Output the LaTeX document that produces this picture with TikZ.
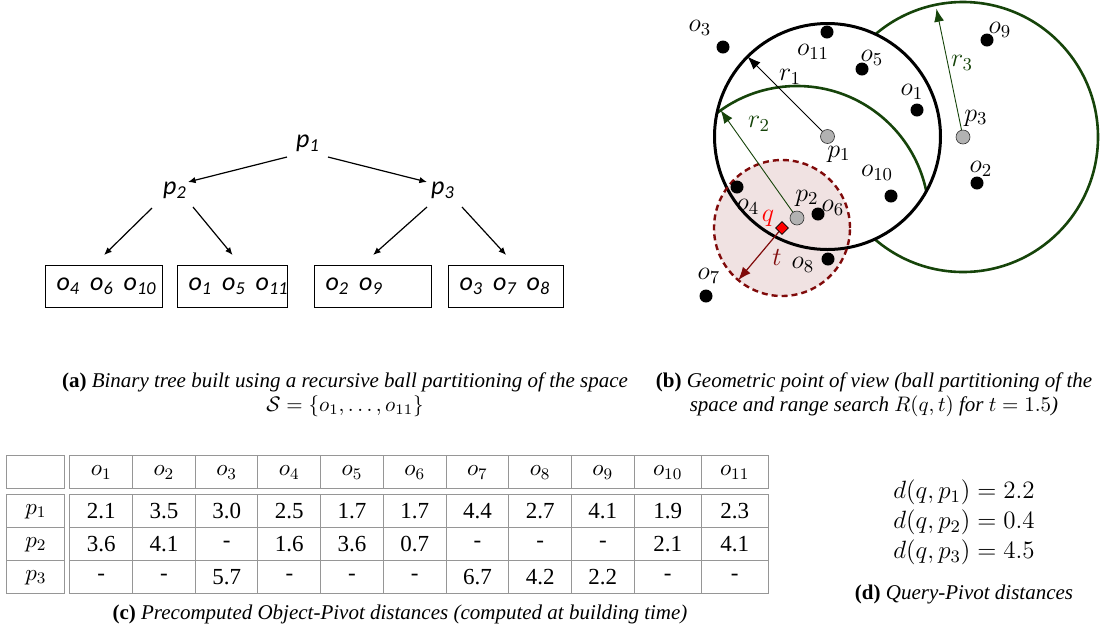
\documentclass[tikz,border=0pt]{standalone}
\usepackage{fix-cm}
\usepackage{amsmath,amssymb}
\usepackage[no-math]{fontspec}
\setmainfont{Liberation Serif}
\newfontfamily\treefont{Carlito}
\usepackage{xcolor}
\usepackage{tikz}
\usetikzlibrary{arrows.meta,positioning,calc,matrix,shapes.geometric}

\definecolor{ballgreen}{RGB}{22,68,10}
\definecolor{rangered}{RGB}{128,10,10}
\definecolor{rangefill}{RGB}{240,226,226}
\definecolor{rulegray}{RGB}{150,150,150}

\newcommand{\leafobj}[1]{o\textsubscript{#1}}
\newcommand{\leafsep}{\kern5pt}

\tikzset{
  treelabel/.style={font=\treefont\itshape\fontsize{13}{15}\selectfont, inner sep=0pt},
  leaf/.style={draw, line width=0.6pt, minimum height=21pt, inner xsep=5.5pt,
    align=left, anchor=north west, font=\treefont\itshape\fontsize{13}{15}\selectfont},
  treearrow/.style={-{Latex[length=3.8pt,width=3.2pt]}, line width=0.6pt},
  obj/.style={circle, fill=black, inner sep=0pt, minimum size=6.5pt},
  pivot/.style={circle, draw=black!80, line width=0.3pt, fill=black!30, inner sep=0pt, minimum size=7pt},
  glabel/.style={font=\fontsize{13}{15}\selectfont, inner sep=0pt},
  radiusarrow/.style={-{Latex[length=6.5pt,width=5pt]}, line width=0.45pt},
  caption/.style={font=\fontsize{10.5}{12}\selectfont, align=center, inner sep=0pt},
}

\begin{document}
\begin{tikzpicture}[x=0.5pt, y=-0.5pt]
  \useasboundingbox (0,0) rectangle (1105,634);

  % (a) tree
  \node[treelabel] (root) at (308,143) {p\textsubscript{1}};
  \node[treelabel] (left) at (175,190) {p\textsubscript{2}};
  \node[treelabel] (right) at (443,190) {p\textsubscript{3}};

  \node[leaf, text width=47.5pt] (leaf1) at (45,265) {\leafobj{4}\leafsep\leafobj{6}\leafsep\leafobj{10}};
  \node[leaf, text width=44pt] (leaf2) at (177,265) {\leafobj{1}\leafsep\leafobj{5}\leafsep\leafobj{11}};
  \node[leaf, text width=47.5pt] (leaf3) at (314,265) {\leafobj{2}\leafsep\leafobj{9}};
  \node[leaf, text width=46.5pt] (leaf4) at (448,265) {\leafobj{3}\leafsep\leafobj{7}\leafsep\leafobj{8}};

  \draw[treearrow] ([shift={(-21,14)}]root.center) -- ([shift={(13,-8)}]left.center);
  \draw[treearrow] ([shift={(20,14)}]root.center) -- ([shift={(-16,-8)}]right.center);
  \draw[treearrow] ([shift={(-23,18)}]left.center) -- ([yshift=5pt]leaf1.north);
  \draw[treearrow] ([shift={(18,17)}]left.center) -- ([yshift=5pt]leaf2.north);
  \draw[treearrow] ([shift={(-16,17)}]right.center) -- ([yshift=5pt]leaf3.north);
  \draw[treearrow] ([shift={(19,17)}]right.center) -- ([yshift=5pt]leaf4.north);

  \node[caption] (capA) at (345,395)
    {\textbf{(a)} \textit{Binary tree built using a recursive ball partitioning of the space}\\
    $\mathcal{S}=\{o_1,\ldots,o_{11}\}$};

  % (b) balls
  \coordinate (c1) at (827.5,136.5);
  \coordinate (c2) at (797,218);
  \coordinate (c3) at (963,137);
  \coordinate (qc) at (782,228);

  \draw[ballgreen, line width=1.3pt] (c3) circle (67.5pt);
  \fill[white] (c1) circle (56.5pt);
  \fill[rangefill] (qc) circle (34pt);
  \begin{scope}
    \clip (c1) circle (56.5pt);
    \draw[ballgreen, line width=1.3pt] (c2) circle (66pt);
  \end{scope}
  \draw[line width=1.5pt] (c1) circle (56.5pt);
  \draw[rangered, line width=1.2pt, dash pattern=on 3pt off 2pt] (qc) circle (34pt);

  \coordinate (r1end) at ($(c1)+(-135:113)$);
  \coordinate (r2end) at ($(c2)+(-125.3:132)$);
  \coordinate (r3end) at ($(c3)+(-101.7:131)$);
  \coordinate (tend) at ($(qc)+(130:68)$);
  \draw[radiusarrow] (c1) -- (r1end);
  \draw[radiusarrow, ballgreen] (c2) -- (r2end);
  \draw[radiusarrow, ballgreen] (c3) -- (r3end);
  \draw[radiusarrow, rangered, line width=0.6pt] (qc) -- (tend);

  \foreach \i/\x/\y/\lx/\ly in {3/723/47/700/28, 11/827/32/813/52, 5/862/69/872/58,
      1/917/110/912/92, 9/987/40/1000/30, 2/977/183/981/169, 10/891/196/877/173,
      4/737/187/748/207, 6/818/214/833/208, 8/828/259/803/265, 7/706/296/709/276} {
    \node[obj] (obj\i) at (\x,\y) {};
    \node[glabel] (objlbl\i) at (\lx,\ly) {$o_{\i}$};
  }

  \node[pivot] (piv1) at (c1) {};
  \node[pivot] (piv2) at (c2) {};
  \node[pivot] (piv3) at (c3) {};
  \node[glabel] (pivlbl1) at (839,154) {$p_1$};
  \node[glabel] (pivlbl2) at (807,198) {$p_2$};
  \node[glabel] (pivlbl3) at (976,118) {$p_3$};
  \node[glabel] (rlbl1) at (790,77) {$r_1$};
  \node[glabel, text=ballgreen] (rlbl2) at (759,124) {$r_2$};
  \node[glabel, text=ballgreen] (rlbl3) at (962,63) {$r_3$};

  \node[diamond, draw=black, line width=0.3pt, fill=red, inner sep=0pt, minimum size=6.5pt] (q) at (qc) {};
  \node[glabel, text=red] (qlbl) at (768,218) {$q$};
  \node[glabel, text=rangered] (tlbl) at (777,257) {$t$};

  \node[caption] (capB) at (874,395) {\textbf{(b)} \textit{Geometric point of view (ball partitioning of the}\\
    \textit{space and range search $R(q,t)$ for $t=1.5$)}};

  % (c) table
  \matrix (dist) [matrix of nodes, nodes in empty cells, anchor=north west, inner sep=0pt,
    column sep=-0.5pt, row sep=-0.5pt,
    nodes={draw=rulegray, line width=0.5pt, outer sep=0pt, anchor=center,
      minimum width=31.35pt, minimum height=16.5pt,
      inner sep=0pt, font=\fontsize{11.5}{13}\selectfont},
    column 1/.style={nodes={minimum width=29pt}},
    column 11/.style={nodes={minimum width=33.5pt}},
    column 12/.style={nodes={minimum width=33.5pt}}] at (6,455) {
     &[2.5pt] $o_{1}$ & $o_{2}$ & $o_{3}$ & $o_{4}$ & $o_{5}$ & $o_{6}$ & $o_{7}$ & $o_{8}$ & $o_{9}$ & $o_{10}$ & $o_{11}$ \\[3pt]
    $p_{1}$ & 2.1 & 3.5 & 3.0 & 2.5 & 1.7 & 1.7 & 4.4 & 2.7 & 4.1 & 1.9 & 2.3 \\
    $p_{2}$ & 3.6 & 4.1 & - & 1.6 & 3.6 & 0.7 & - & - & - & 2.1 & 4.1 \\
    $p_{3}$ & - & - & 5.7 & - & - & - & 6.7 & 4.2 & 2.2 & - & - \\
  };

  \node[caption] (capC) at (400,614) {\textbf{(c)} \textit{Precomputed Object-Pivot distances (computed at building time)}};

  % (d) query distances
  \node[caption, font=\fontsize{12.5}{15}\selectfont] (qdist) at (964,522)
    {$d(q,p_1)=2.2$\\ $d(q,p_2)=0.4$\\ $d(q,p_3)=4.5$};
  \node[caption] (capD) at (964,594) {\textbf{(d)} \textit{Query-Pivot distances}};
\end{tikzpicture}
\end{document}
